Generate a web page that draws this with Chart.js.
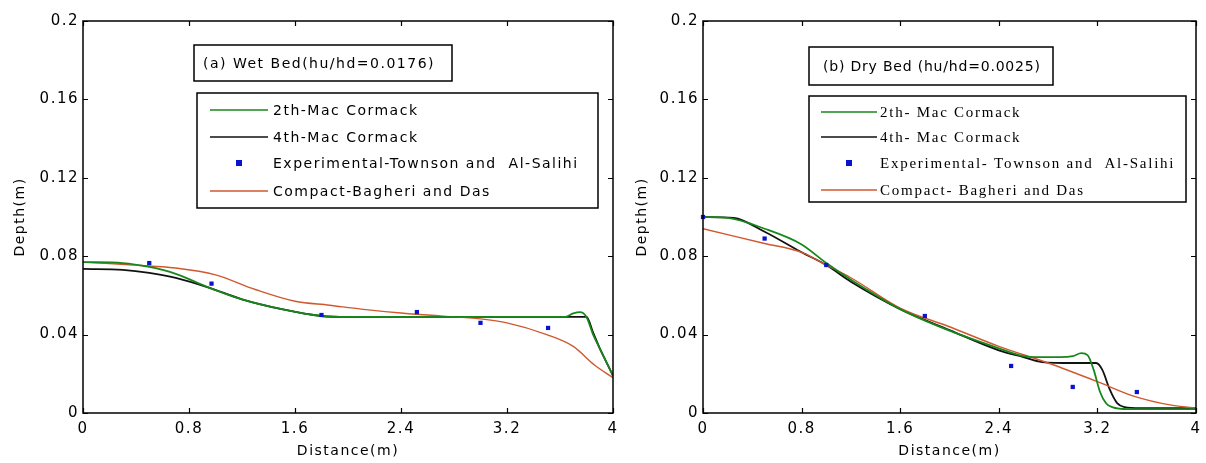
<!DOCTYPE html>
<html>
<head>
<meta charset="utf-8">
<script src="https://cdn.jsdelivr.net/npm/chart.js@4.4.1/dist/chart.umd.min.js"></script>
<style>
  html, body { margin: 0; padding: 0; background: #fff; }
  #wrap { position: relative; width: 1206px; height: 463px; overflow: hidden; background: #fff; }
  canvas { position: absolute; top: 0; }
  #wetChart { left: 0; }
  #dryChart { left: 620px; }
</style>
</head>
<body>
<div id="wrap">
  <canvas id="wetChart" width="620" height="463"></canvas>
  <canvas id="dryChart" width="586" height="463"></canvas>
</div>
<script>
// shared axis ticks
const xTicks = [0, 0.8, 1.6, 2.4, 3.2, 4];
const yTicks = [0, 0.04, 0.08, 0.12, 0.16, 0.2];

// legend labels for each panel
const wetLabels = ['2th-Mac Cormack', '4th-Mac Cormack', 'Experimental-Townson and  Al-Salihi', 'Compact-Bagheri and Das'];
const dryLabels = ['2th- Mac Cormack', '4th- Mac Cormack', 'Experimental- Townson and  Al-Salihi', 'Compact- Bagheri and Das'];

// (a) wet bed
const wetMac2X = [0, 0.3, 0.5, 0.7, 0.95, 1.2, 1.5, 1.8, 2.0, 2.5, 3.0, 3.5, 3.64, 3.7, 3.75, 3.8, 3.85, 3.9, 3.95, 4.0];
const wetMac2Y = [0.077, 0.0765, 0.0745, 0.071, 0.064, 0.058, 0.053, 0.0495, 0.049, 0.049, 0.049, 0.049, 0.049, 0.0508, 0.0515, 0.049, 0.040, 0.033, 0.026, 0.019];
const wetMac4X = [0, 0.3, 0.5, 0.7, 0.95, 1.2, 1.5, 1.8, 2.0, 2.5, 3.0, 3.5, 3.8, 3.85, 3.9, 3.95, 4.0];
const wetMac4Y = [0.0735, 0.073, 0.0715, 0.069, 0.064, 0.058, 0.053, 0.0495, 0.049, 0.049, 0.049, 0.049, 0.049, 0.041, 0.033, 0.026, 0.019];
const wetExpX = [0.5, 0.97, 1.8, 2.52, 3.0, 3.51];
const wetExpY = [0.0765, 0.066, 0.050, 0.0515, 0.046, 0.0434];
const wetCompactX = [0, 0.5, 0.7, 1.0, 1.3, 1.6, 1.86, 2.1, 2.4, 2.7, 3.0, 3.2, 3.5, 3.7, 3.86, 4.0];
const wetCompactY = [0.077, 0.075, 0.074, 0.0705, 0.063, 0.057, 0.055, 0.053, 0.051, 0.0495, 0.048, 0.046, 0.040, 0.034, 0.0245, 0.018];

// (b) dry bed
const dryMac2X = [0, 0.2, 0.5, 0.8, 1.0, 1.2, 1.6, 2.0, 2.4, 2.6, 2.7, 2.9, 3.0, 3.07, 3.12, 3.17, 3.22, 3.27, 3.32, 3.45, 3.7, 4.0];
const dryMac2Y = [0.100, 0.0995, 0.094, 0.086, 0.0765, 0.068, 0.053, 0.042, 0.033, 0.029, 0.0285, 0.0285, 0.029, 0.0305, 0.0295, 0.022, 0.011, 0.005, 0.003, 0.002, 0.002, 0.002];
const dryMac4X = [0, 0.25, 0.5, 0.8, 1.0, 1.2, 1.6, 2.0, 2.4, 2.6, 2.75, 3.0, 3.19, 3.24, 3.3, 3.36, 3.42, 3.55, 4.0];
const dryMac4Y = [0.100, 0.0995, 0.0925, 0.082, 0.0755, 0.067, 0.053, 0.0423, 0.032, 0.0285, 0.026, 0.0255, 0.0255, 0.022, 0.012, 0.005, 0.003, 0.0025, 0.0025];
const dryExpX = [0, 0.5, 1.0, 1.8, 2.5, 3.0, 3.52];
const dryExpY = [0.100, 0.089, 0.0755, 0.0495, 0.024, 0.0133, 0.0107];
const dryCompactX = [0, 0.5, 0.8, 1.0, 1.2, 1.6, 2.0, 2.4, 2.8, 3.2, 3.5, 3.8, 4.0];
const dryCompactY = [0.094, 0.0865, 0.082, 0.0755, 0.069, 0.0535, 0.044, 0.034, 0.0255, 0.016, 0.0085, 0.004, 0.0025];

const GREEN = '#17871b';
const BLACK = '#111111';
const BLUE = '#0b12cf';
const RED = '#d0582e';

function pts(xs, ys) {
    return xs.map((x, i) => ({ x: x, y: ys[i] }));
}

function lineSet(label, xs, ys, color, width, order) {
    return {
        label: label,
        data: pts(xs, ys),
        showLine: true,
        borderColor: color,
        backgroundColor: color,
        borderWidth: width,
        pointRadius: 0,
        cubicInterpolationMode: 'monotone',
        order: order,
    };
}

function pointSet(label, xs, ys, color) {
    return {
        label: label,
        data: pts(xs, ys),
        showLine: false,
        pointStyle: 'rect',
        pointRadius: 3,
        pointBorderWidth: 0,
        backgroundColor: color,
        borderColor: color,
        clip: false,
        order: 0,
    };
}

function spacedText(ctx, text, x, y, font, spacing) {
    ctx.font = font;
    ctx.letterSpacing = spacing + 'px';
    ctx.fillText(text, x, y);
}

// box frame, inward ticks, note box and legend, MATLAB style
const framePlugin = {
    id: 'frame',
    beforeDraw(chart) {
        chart.ctx.letterSpacing = '1.5px';
    },
    afterDraw(chart, args, opts) {
        const { ctx, chartArea: a, scales } = chart;
        ctx.save();
        ctx.strokeStyle = '#000';
        ctx.lineWidth = 1.5;
        ctx.strokeRect(a.left, a.top, a.right - a.left, a.bottom - a.top);

        ctx.beginPath();
        xTicks.forEach((v) => {
            const x = Math.round(scales.x.getPixelForValue(v)) + 0.5;
            ctx.moveTo(x, a.bottom); ctx.lineTo(x, a.bottom - 5);
            ctx.moveTo(x, a.top); ctx.lineTo(x, a.top + 5);
        });
        yTicks.forEach((v) => {
            const y = Math.round(scales.y.getPixelForValue(v)) + 0.5;
            ctx.moveTo(a.left, y); ctx.lineTo(a.left + 5, y);
            ctx.moveTo(a.right, y); ctx.lineTo(a.right - 5, y);
        });
        ctx.lineWidth = 1.2;
        ctx.stroke();

        // note box
        const n = opts.noteBox;
        ctx.fillStyle = '#fff';
        ctx.fillRect(n[0], n[1], n[2] - n[0], n[3] - n[1]);
        ctx.lineWidth = 1.5;
        ctx.strokeRect(n[0], n[1], n[2] - n[0], n[3] - n[1]);
        ctx.fillStyle = '#000';
        ctx.textBaseline = 'middle';
        ctx.textAlign = 'left';
        spacedText(ctx, opts.note, opts.noteX, (n[1] + n[3]) / 2 + 1, opts.noteFont, opts.noteSpacing);

        // legend box
        const b = opts.legendBox;
        ctx.fillStyle = '#fff';
        ctx.fillRect(b[0], b[1], b[2] - b[0], b[3] - b[1]);
        ctx.strokeRect(b[0], b[1], b[2] - b[0], b[3] - b[1]);
        chart.data.datasets.forEach((ds, i) => {
            const y = opts.rows[i];
            if (ds.showLine) {
                ctx.strokeStyle = ds.borderColor;
                ctx.lineWidth = 1.6;
                ctx.beginPath();
                ctx.moveTo(opts.sample[0], y);
                ctx.lineTo(opts.sample[1], y);
                ctx.stroke();
            } else {
                const cx = (opts.sample[0] + opts.sample[1]) / 2;
                ctx.fillStyle = ds.backgroundColor;
                ctx.fillRect(cx - 3, y - 3, 6, 6);
            }
            ctx.fillStyle = '#000';
            spacedText(ctx, ds.label, opts.textX, y + 1, opts.legendFont, opts.legendSpacing);
        });
        ctx.restore();
    },
};

const tickFont = { family: 'DejaVu Sans', size: 15 };
const titleFont = { family: 'DejaVu Sans', size: 14 };

function makePanel(canvasId, datasets, padRight, yTitlePad, frameOpts) {
    return new Chart(document.getElementById(canvasId), {
        type: 'scatter',
        data: { datasets: datasets },
        options: {
            responsive: false,
            animation: false,
            devicePixelRatio: 1,
            layout: { padding: { top: 21, right: padRight, left: 0, bottom: 0 } },
            plugins: {
                legend: { display: false },
                tooltip: { enabled: false },
                frame: frameOpts,
            },
            scales: {
                x: {
                    type: 'linear',
                    min: 0,
                    max: 4,
                    afterBuildTicks: (s) => { s.ticks = xTicks.map((v) => ({ value: v })); },
                    afterFit: (s) => { s.height = 50; s.paddingLeft = 0; s.paddingRight = 0; },
                    grid: { display: false, drawTicks: false },
                    border: { display: false },
                    ticks: { padding: 7, color: '#000', font: tickFont, maxRotation: 0, callback: (v) => String(+v.toFixed(2)) },
                    title: { display: true, text: 'Distance(m)', color: '#000', font: titleFont, padding: { top: 0, bottom: 3 } },
                },
                y: {
                    type: 'linear',
                    min: 0,
                    max: 0.2,
                    afterBuildTicks: (s) => { s.ticks = yTicks.map((v) => ({ value: v })); },
                    afterFit: (s) => { s.width = 83; },
                    grid: { display: false, drawTicks: false },
                    border: { display: false },
                    ticks: { padding: 4, color: '#000', font: tickFont, callback: (v) => String(+v.toFixed(2)) },
                    title: { display: true, text: 'Depth(m)', color: '#000', font: titleFont, padding: { top: yTitlePad, bottom: 0 } },
                },
            },
        },
        plugins: [framePlugin],
    });
}

makePanel('wetChart', [
    lineSet(wetLabels[0], wetMac2X, wetMac2Y, GREEN, 1.8, 1),
    lineSet(wetLabels[1], wetMac4X, wetMac4Y, BLACK, 1.8, 3),
    pointSet(wetLabels[2], wetExpX, wetExpY, BLUE),
    lineSet(wetLabels[3], wetCompactX, wetCompactY, RED, 1.4, 2),
], 7, 12, {
    note: '(a) Wet Bed(hu/hd=0.0176)',
    noteBox: [194, 45, 452, 81],
    noteX: 203,
    noteFont: '14px "DejaVu Sans"',
    noteSpacing: 1.5,
    legendBox: [197, 93, 598, 208],
    rows: [110, 137, 163, 191],
    sample: [210, 268],
    textX: 273,
    legendFont: '14px "DejaVu Sans"',
    legendSpacing: 1.5,
});

makePanel('dryChart', [
    lineSet(dryLabels[0], dryMac2X, dryMac2Y, GREEN, 1.8, 1),
    lineSet(dryLabels[1], dryMac4X, dryMac4Y, BLACK, 1.8, 3),
    pointSet(dryLabels[2], dryExpX, dryExpY, BLUE),
    lineSet(dryLabels[3], dryCompactX, dryCompactY, RED, 1.4, 2),
], 10, 14, {
    note: '(b) Dry Bed (hu/hd=0.0025)',
    noteBox: [189, 47, 433, 85],
    noteX: 203,
    noteFont: '14px "DejaVu Sans"',
    noteSpacing: 0.8,
    legendBox: [189, 96, 566, 202],
    rows: [112, 137, 163, 190],
    sample: [201, 257],
    textX: 260,
    legendFont: '15px "Liberation Serif"',
    legendSpacing: 1.75,
});
</script>
</body>
</html>
